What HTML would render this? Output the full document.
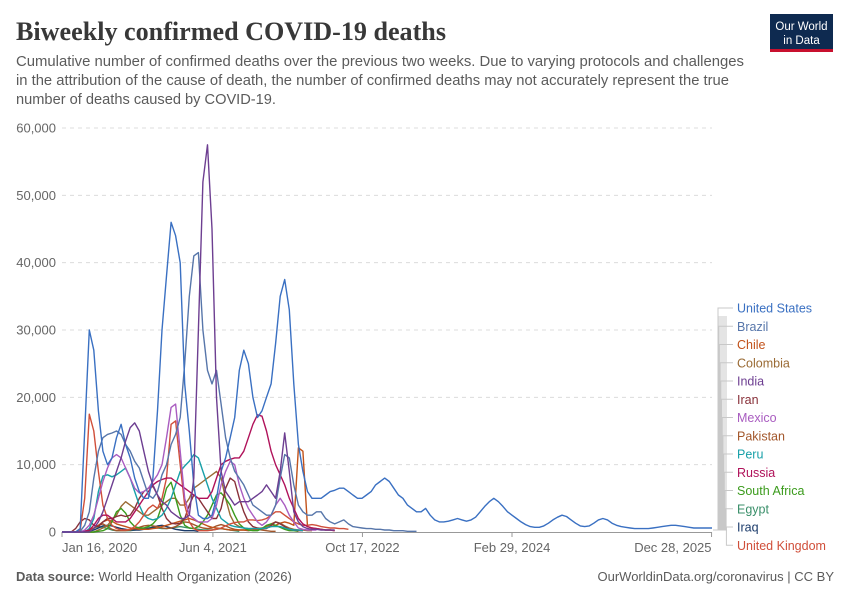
<!DOCTYPE html>
<html><head><meta charset="utf-8"><style>
html,body{margin:0;padding:0;background:#fff;}
svg{display:block;font-family:"Liberation Sans",sans-serif;}
</style></head><body>
<svg id="chart" width="850" height="600" viewBox="0 0 850 600">
<text x="16" y="40" font-family="Liberation Serif,serif" font-weight="bold" font-size="26" fill="#383838" textLength="430" lengthAdjust="spacingAndGlyphs">Biweekly confirmed COVID-19 deaths</text>
<g fill="#5b5b5b" font-size="14.5">
<text x="16" y="66" textLength="728" lengthAdjust="spacingAndGlyphs">Cumulative number of confirmed deaths over the previous two weeks. Due to varying protocols and challenges</text>
<text x="16" y="85" textLength="713" lengthAdjust="spacingAndGlyphs">in the attribution of the cause of death, the number of confirmed deaths may not accurately represent the true</text>
<text x="16" y="104" textLength="260" lengthAdjust="spacingAndGlyphs">number of deaths caused by COVID-19.</text>
</g>
<g>
<rect x="770" y="14" width="63" height="35" fill="#0e2a50"/>
<rect x="770" y="49" width="63" height="3" fill="#c8102e"/>
<text x="801.5" y="30" fill="#fff" font-size="11.5" text-anchor="middle">Our World</text>
<text x="801.5" y="44" fill="#fff" font-size="11.5" text-anchor="middle">in Data</text>
</g>
<g id="grid"></g><g id="series"></g><g id="legend"></g>
<text x="16" y="581" font-size="13" fill="#5b5b5b"><tspan font-weight="bold">Data source:</tspan> World Health Organization (2026)</text>
<text x="834" y="581" font-size="13" fill="#5b5b5b" text-anchor="end">OurWorldinData.org/coronavirus | CC BY</text>
</svg>
<script>
const yTicks=[0,10,20,30,40,50,60];
const yTickLabels=["0","10,000","20,000","30,000","40,000","50,000","60,000"];
const xTickPos=[0,33.2,66.1,99,142.9];
const xTickLabels=["Jan 16, 2020","Jun 4, 2021","Oct 17, 2022","Feb 29, 2024","Dec 28, 2025"];
const countries=["United States","Brazil","Chile","Colombia","India","Iran","Mexico","Pakistan","Peru","Russia","South Africa","Egypt","Iraq","United Kingdom"];
const colors=["#3a70c2","#5776aa","#c2521a","#9a6b35","#6d3e91","#883039","#a95cc0","#a2562a","#18a0a8","#b0125a","#3b9b1c","#3a8f6a","#1a3a6a","#d04f3a"];
// values in thousands, semi-monthly samples from Jan 2020
const usa=[0,0,0,0,0.5,15,30,27,18,12,10,11,14,16,13,11,8,6,5,5,8,18,30,38,46,44,40,22,15,7,2.5,2,2,2.5,5,9,11,14,17,24,27,25,20,17,18,20,22,28,35,37.5,33,22,13,9,6,5,5,5,5.5,6,6.2,6.5,6.5,6,5.5,5,5,5.5,6,7,7.5,8,7.5,6.5,5.5,5,4,3.5,3,3,3.5,2.5,1.8,1.5,1.5,1.6,1.8,2,1.8,1.6,1.8,2.2,3,3.8,4.5,5,4.5,3.8,3,2.5,2,1.5,1.1,0.8,0.7,0.7,0.9,1.3,1.8,2.2,2.5,2.3,1.8,1.3,0.9,0.8,0.9,1.3,1.8,2,1.8,1.3,1,0.8,0.7,0.6,0.5,0.5,0.5,0.5,0.6,0.7,0.8,0.9,1,1,0.9,0.8,0.7,0.6,0.6,0.6,0.6,0.6];
const brazil=[0,0,0,0,0.1,1,3,8,12,14,14.5,14.7,15,14.5,13,12,10.5,9.5,7.5,5.5,5,6,8.5,10,13,14.5,17,25,35,41,41.5,30,24,22,24,19,14,11,9,8,7,5.5,4,3.5,3,2.5,2.5,4,8,11.5,11,7,4,3,2.5,2.5,3,3,2,1.5,1.2,1.5,1.8,1.2,0.8,0.7,0.6,0.5,0.5,0.4,0.4,0.3,0.3,0.2,0.2,0.2,0.1,0.1,0.1];
const chile=[0,0,0,0,0,0.1,0.3,0.6,1,1.5,1.8,1.6,1.2,1,0.8,0.6,0.5,0.4,0.4,0.4,0.5,0.6,0.8,1,1.2,1.4,1.6,1.8,2,1.8,1.5,1.2,0.9,0.7,0.6,0.5,0.4,0.3,0.3,0.3,0.3,0.3,0.3,0.4,0.5,0.6,0.8,1,1.3,1.5,1.3,1,12.5,12,0.8,0.6,0.5,0.4,0.3,0.3,0.2];
const colombia=[0,0,0,0,0,0,0,0,0.3,0.6,1,1.8,2.5,3.8,4.5,4,3.5,3,2.5,2.5,3,3.5,4,4.5,5,5,4,4,5,6.5,7,7.5,8,8.5,9,8,5,2.5,1.2,0.8,0.6,0.5,0.5,0.5,0.6,0.8,1.2,1.5,1.3,0.9,0.6,0.4,0.3,0.3,0.2,0.2];
const india=[0,0,0,0,0,0,0,0.5,1.5,3,5,7,9,11,13.5,15.5,16.2,15,12,9,7,5.5,4.5,4,3,2.5,2,2,2.5,8,30,52,57.5,45,20,9,6,5,4,4.5,4.5,4.5,5,5.5,6,7,6,5,9,14.7,9,3,1.5,0.8,0.5,0.4,0.4,0.3,0.3,0.3,0.3];
const iran=[0,0,0,0.5,1.5,2,1.8,1,0.8,1.5,2,2,2.3,2.5,2.3,2.5,3.5,5,6,6.5,6.8,5.5,3.5,2,1.3,1.2,1.3,2,4,5.5,5,4,3,2,2,3.5,6.5,8,7.5,5,3,1.5,0.8,0.6,0.5,0.5,1,1.5,1.2,0.8,0.4,0.3,0.2,0.2];
const mexico=[0,0,0,0,0,0.3,1,2.5,5,7.5,9.5,11,11.5,11,9.5,8,6.5,5.8,6,6.5,7.5,8.5,10,14,18.5,19,12,5,2.5,2,1.5,1.5,1.5,2,4,7,9,10.5,10,7,5,3.5,2.5,1.5,1,1.5,2.5,4,5,4,2.5,1.5,0.6,0.4,0.3,0.3,0.3];
const pakistan=[0,0,0,0,0,0.1,0.3,0.6,1,1.2,0.8,0.4,0.2,0.2,0.2,0.3,0.5,0.7,0.9,1,0.9,0.8,0.6,0.5,0.6,0.8,1.2,1.5,1.4,1.1,0.8,0.6,0.5,0.6,0.9,1.1,0.9,0.6,0.4,0.3,0.3,0.2,0.3,0.4,0.3,0.2,0.1,0.1];
const peru=[0,0,0,0,0,0,0.5,2,6,8.3,8.5,8.2,8.5,9,9.5,8,6,4,2.5,2,1.8,2,2.5,3.5,5,7,9,9.8,10.5,11.5,11,9,7,5,3.5,2,1.5,1,0.8,0.7,0.6,0.5,0.5,0.5,0.5,0.6,0.8,0.8,0.8,0.6,0.4,0.3,0.3,0.2];
const russia=[0,0,0,0,0,0.1,0.3,1,2,2.5,2.5,2,1.5,1.5,1.5,2,3,4,5,6,7,7.5,7.8,8,8,7.5,7,6.5,6,5.5,5,5,5,6,8,10,10.5,10.8,11,11,12,14,16,17.4,17.2,15,12,10,8.5,7,5,3.5,2,1.2,0.8,0.6,0.5,0.4,0.3,0.3,0.2];
const southAfrica=[0,0,0,0,0,0,0,0,0.1,0.2,0.5,1.5,3,3.5,2.8,1.5,0.8,0.6,0.6,0.8,1.2,2,4,6.5,7.4,5,2.5,1,0.6,0.5,0.8,1.5,2.5,4,5.5,5.8,5,4,2.5,1.2,0.6,0.3,0.2,0.2,0.5,1,1.2,1,0.7,0.4,0.2,0.2,0.1];
const egypt=[0,0,0,0,0,0.1,0.3,0.6,0.8,0.7,0.5,0.3,0.2,0.2,0.2,0.2,0.3,0.4,0.5,0.6,0.7,0.6,0.5,0.5,0.6,0.7,0.8,0.7,0.6,0.5,0.4,0.3,0.3,0.3,0.4,0.5,0.4,0.3,0.2,0.1];
const iraq=[0,0,0,0,0,0,0.1,0.3,0.6,0.9,1,0.9,0.7,0.5,0.4,0.3,0.3,0.3,0.4,0.5,0.7,0.9,1,0.8,0.6,0.4,0.3,0.2,0.2,0.2,0.1];
const uk=[0,0,0,0,0.3,5,17.5,15,9,4,2,1,0.5,0.3,0.3,0.4,0.8,1.5,2.5,3.5,4,3.5,5,8,16,16.5,10,4,1.5,0.5,0.2,0.2,0.2,0.3,0.4,0.6,0.9,1.2,1.4,1.5,1.5,1.8,1.8,1.7,1.8,2,2.5,3,3,2.5,2,1.5,1.2,1,1,1.1,1,0.8,0.7,0.6,0.6,0.5,0.5,0.4];
const seriesData=[usa,brazil,chile,colombia,india,iran,mexico,pakistan,peru,russia,southAfrica,egypt,iraq,uk];
const drawOrder=[11,12,7,2,3,10,5,8,13,9,6,1,0,4];

const NS="http://www.w3.org/2000/svg";
const L=62,R=712,T=128,B=532,H_MAX=143,V_MAX=60;
function xs(h){return L+h*(R-L)/H_MAX;}
function ys(v){return B-v*(B-T)/V_MAX;}
function mk(tag,attrs,parent){const e=document.createElementNS(NS,tag);for(const k in attrs)e.setAttribute(k,attrs[k]);parent.appendChild(e);return e;}
const grid=document.getElementById('grid');
yTicks.forEach((v,i)=>{
  if(v>0){const ln=mk('line',{x1:L,x2:R,y1:ys(v),y2:ys(v),stroke:'#dcdcdc','stroke-dasharray':'4,4'},grid);
  
  }
  const t=mk('text',{x:56,y:ys(v)+4.5,'text-anchor':'end','font-size':13,fill:'#666'},grid);
  t.textContent=yTickLabels[i];
  
  
});
const ax=mk('line',{x1:L,x2:R,y1:B+0.5,y2:B+0.5,stroke:'#999'},grid);


xTickPos.forEach((h,i)=>{
  const x=xs(h);
  mk('line',{x1:x,x2:x,y1:B,y2:B+5,stroke:'#999'},grid);
  const anchor=i===0?'start':(i===xTickLabels.length-1?'end':'middle');
  const t=mk('text',{x:x,y:552,'text-anchor':anchor,'font-size':13,fill:'#666'},grid);
  t.textContent=xTickLabels[i];
  
  
});
const sg=document.getElementById('series');
drawOrder.forEach(i=>{
  const d=seriesData[i].map((v,h)=>xs(h).toFixed(1)+','+ys(v).toFixed(1)).join(' ');
  const p=mk('polyline',{points:d,fill:'none',stroke:colors[i],'stroke-width':1.4,'stroke-linejoin':'round'},sg);
  
  
});
const lg=document.getElementById('legend');
mk('polygon',{points:'718,316 727,316 727,530 718,530',fill:'#e4e4e4'},lg);
countries.forEach((c,i)=>{
  const y=312.5+i*18.25;
  const vx=718+Math.min(i,12)*0.7;
  mk('polyline',{points:`713,530 ${vx},530 ${vx},${y-4.5} 733,${y-4.5}`,fill:'none',stroke:'#c8c8c8','stroke-width':1},lg);
  const t=mk('text',{x:737,y:y,'font-size':12.5,fill:colors[i]},lg);
  t.textContent=c;
  
  
});
</script>
</body></html>
